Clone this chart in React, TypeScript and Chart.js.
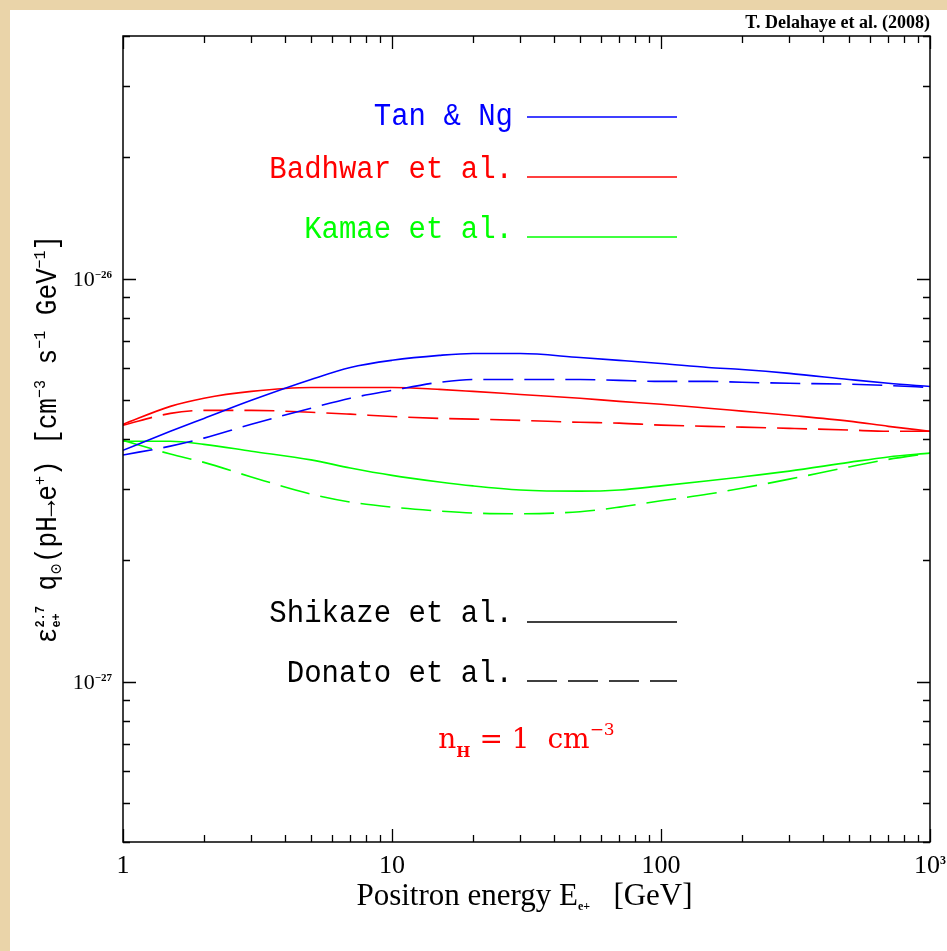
import React, { useEffect, useRef } from 'react';
import { Chart, registerables } from 'chart.js';

Chart.register(...registerables);

// ---------- data (values in units of 1e-27 cm^-3 s^-1 GeV^-1, E^2.7-weighted) ----------
const UNIT = 1e-27;
const energiesGeV = [1, 1.5, 2, 3, 5, 7, 10, 15, 20, 30, 50, 70, 100, 150, 200, 300, 500, 700, 1000];
const tanNgShikaze = [3.75, 4.18, 4.5, 4.99, 5.62, 6.02, 6.27, 6.45, 6.52, 6.52, 6.37, 6.27, 6.16, 6.02, 5.95, 5.82, 5.62, 5.5, 5.4];
const tanNgDonato = [3.65, 3.84, 4.02, 4.35, 4.77, 5.05, 5.28, 5.53, 5.62, 5.62, 5.62, 5.59, 5.56, 5.56, 5.53, 5.5, 5.47, 5.43, 5.37];
const badhwarShikaze = [4.35, 4.82, 5.05, 5.25, 5.37, 5.37, 5.37, 5.31, 5.25, 5.16, 5.05, 4.96, 4.88, 4.77, 4.69, 4.58, 4.43, 4.3, 4.18];
const badhwarDonato = [4.33, 4.63, 4.71, 4.71, 4.66, 4.61, 4.55, 4.5, 4.48, 4.45, 4.4, 4.38, 4.33, 4.3, 4.28, 4.25, 4.21, 4.18, 4.18];
const kamaeShikaze = [3.95, 3.95, 3.88, 3.73, 3.55, 3.39, 3.25, 3.13, 3.06, 2.99, 2.97, 2.99, 3.06, 3.15, 3.22, 3.33, 3.5, 3.61, 3.69];
const kamaeDonato = [3.97, 3.67, 3.5, 3.22, 2.92, 2.79, 2.71, 2.65, 2.62, 2.61, 2.64, 2.71, 2.81, 2.92, 3.02, 3.18, 3.41, 3.56, 3.69];

const xMin = 1;
const xMax = 1000;
const yMin = 4e-28;
const yMax = 4e-26;
const xTickValues = [1, 10, 100, 1000];
const xTickBase = ['1', '10', '100', '10'];
const xTickExp = ['', '', '', '3'];
const yTickValues = [1e-27, 1e-26];
const yTickExp = ['\u221227', '\u221226'];

const BLUE = '#0000ff';
const RED = '#ff0000';
const GREEN = '#00ff00';

const legendTop = [
  { label: 'Tan & Ng', color: BLUE },
  { label: 'Badhwar et al.', color: RED },
  { label: 'Kamae et al.', color: GREEN },
];
const legendBottom = [
  { label: 'Shikaze et al.', dashed: false },
  { label: 'Donato et al.', dashed: true },
];

// ---------- fonts ----------
const SERIF = '"Liberation Serif", "DejaVu Serif", serif';
const MONO = '"Liberation Mono", "DejaVu Sans Mono", monospace';
const DSERIF = '"DejaVu Serif", serif';
const DASH = [30, 11];

type Seg = { t: string; f: string; dy?: number; keep?: boolean };

function measureRich(ctx: CanvasRenderingContext2D, segs: Seg[]) {
  let w = 0;
  let pend = 0;
  for (const s of segs) {
    ctx.font = s.f;
    const sw = ctx.measureText(s.t).width;
    if (s.keep) {
      pend = sw;
      continue;
    }
    w += Math.max(sw, pend);
    pend = 0;
  }
  return w;
}

function drawRich(
  ctx: CanvasRenderingContext2D,
  segs: Seg[],
  x: number,
  y: number,
  align: 'left' | 'center' | 'right',
  color: string,
  sy = 1
) {
  const w = measureRich(ctx, segs);
  let cx = align === 'left' ? x : align === 'center' ? x - w / 2 : x - w;
  ctx.save();
  ctx.translate(0, y);
  ctx.scale(1, sy);
  ctx.textAlign = 'left';
  ctx.textBaseline = 'alphabetic';
  ctx.fillStyle = color;
  let pend = 0;
  for (const s of segs) {
    ctx.font = s.f;
    const sw = ctx.measureText(s.t).width;
    ctx.fillText(s.t, cx, (s.dy || 0) / sy);
    if (s.keep) {
      pend = sw;
      continue;
    }
    cx += Math.max(sw, pend);
    pend = 0;
  }
  ctx.restore();
}

const decorPlugin = {
  id: 'decor',
  beforeDraw(chart: any) {
    const { ctx, width, height } = chart;
    ctx.save();
    ctx.fillStyle = '#ead4a9';
    ctx.fillRect(0, 0, width, height);
    ctx.fillStyle = '#ffffff';
    ctx.fillRect(10, 10, width - 10, height - 10);
    ctx.restore();
  },
  afterDraw(chart: any) {
    const { ctx, chartArea: a, scales } = chart;
    const xs = scales.x;
    const ys = scales.y;
    ctx.save();
    // frame
    ctx.strokeStyle = '#000';
    ctx.lineWidth = 1.5;
    ctx.strokeRect(a.left, a.top, a.right - a.left, a.bottom - a.top);

    // ticks (inward, mirrored)
    ctx.lineWidth = 1.3;
    ctx.beginPath();
    for (let d = 0; d <= 3; d++) {
      for (let k = 1; k <= 9; k++) {
        const v = k * Math.pow(10, d);
        if (v < xMin || v > xMax) continue;
        const px = Math.round(xs.getPixelForValue(v)) + 0.5;
        const len = k === 1 ? 13 : 7;
        ctx.moveTo(px, a.bottom);
        ctx.lineTo(px, a.bottom - len);
        ctx.moveTo(px, a.top);
        ctx.lineTo(px, a.top + len);
      }
    }
    for (let d = -28; d <= -26; d++) {
      for (let k = 1; k <= 9; k++) {
        const v = k * Math.pow(10, d);
        if (v < yMin * 0.999 || v > yMax * 1.001) continue;
        const py = Math.round(ys.getPixelForValue(v)) + 0.5;
        const len = k === 1 ? 13 : 7;
        ctx.moveTo(a.left, py);
        ctx.lineTo(a.left + len, py);
        ctx.moveTo(a.right, py);
        ctx.lineTo(a.right - len, py);
      }
    }
    ctx.stroke();

    // x tick labels
    xTickValues.forEach((v, i) => {
      const px = xs.getPixelForValue(v);
      const segs: Seg[] = [{ t: xTickBase[i], f: `26px ${SERIF}` }];
      if (xTickExp[i]) segs.push({ t: xTickExp[i], f: `bold 12px ${SERIF}`, dy: -9 });
      drawRich(ctx, segs, px, a.bottom + 31, 'center', '#000');
    });
    // y tick labels
    yTickValues.forEach((v, i) => {
      const py = ys.getPixelForValue(v);
      drawRich(
        ctx,
        [
          { t: '10', f: `22px ${SERIF}` },
          { t: yTickExp[i], f: `bold 11px ${SERIF}`, dy: -8 },
        ],
        a.left - 11,
        py + 7,
        'right',
        '#000'
      );
    });

    // x title
    drawRich(
      ctx,
      [
        { t: 'Positron energy E', f: `31px ${SERIF}` },
        { t: 'e+', f: `bold 12px ${SERIF}`, dy: 5 },
        { t: '   [GeV]', f: `31px ${SERIF}` },
      ],
      (a.left + a.right) / 2 - 2,
      a.bottom + 63,
      'center',
      '#000'
    );

    // y title (rotated)
    ctx.save();
    ctx.translate(56, (a.top + a.bottom) / 2);
    ctx.rotate(-Math.PI / 2);
    const base = `26px ${MONO}`;
    const small = `15px ${MONO}`;
    drawRich(
      ctx,
      [
        { t: '\u03b5', f: base },
        { t: '2.7', f: `bold 12px ${MONO}`, dy: -12, keep: true },
        { t: 'e+', f: `bold 12px ${MONO}`, dy: 4 },
        { t: ' q', f: base },
        { t: '\u2299', f: `14px ${DSERIF}`, dy: 5 },
        { t: '(pH\u2192e', f: base },
        { t: '+', f: small, dy: -11 },
        { t: ') [cm', f: base },
        { t: '\u22123', f: small, dy: -11 },
        { t: ' s', f: base },
        { t: '\u22121', f: small, dy: -11 },
        { t: ' GeV', f: base },
        { t: '\u22121', f: small, dy: -11 },
        { t: ']', f: base },
      ],
      0,
      0,
      'center',
      '#000',
      1.12
    );
    ctx.restore();

    // credit
    drawRich(ctx, [{ t: 'T. Delahaye et al. (2008)', f: `bold 18px ${SERIF}` }], a.right, 28, 'right', '#000');

    // legend (in-plot)
    const textRight = a.left + 390;
    const lineL = a.left + 404;
    const lineR = a.left + 554;
    const topRows = [a.top + 89, a.top + 142, a.top + 202];
    const topLines = [a.top + 81, a.top + 141, a.top + 201];
    legendTop.forEach((e, i) => {
      drawRich(ctx, [{ t: e.label, f: `29px ${MONO}` }], textRight, topRows[i], 'right', e.color, 1.1);
      ctx.strokeStyle = e.color;
      ctx.lineWidth = 1.6;
      ctx.setLineDash([]);
      ctx.beginPath();
      ctx.moveTo(lineL, topLines[i]);
      ctx.lineTo(lineR, topLines[i]);
      ctx.stroke();
    });
    const botRows = [a.top + 586, a.top + 646];
    const botLines = [a.top + 586, a.top + 645];
    legendBottom.forEach((e, i) => {
      drawRich(ctx, [{ t: e.label, f: `29px ${MONO}` }], textRight, botRows[i], 'right', '#000', 1.1);
      ctx.strokeStyle = '#000';
      ctx.lineWidth = 1.5;
      ctx.setLineDash(e.dashed ? DASH : []);
      ctx.beginPath();
      ctx.moveTo(lineL, botLines[i]);
      ctx.lineTo(lineR, botLines[i]);
      ctx.stroke();
    });
    ctx.setLineDash([]);

    // density annotation
    drawRich(
      ctx,
      [
        { t: 'n', f: `28px ${DSERIF}` },
        { t: 'H', f: `bold 15px ${DSERIF}`, dy: 9 },
        { t: ' = 1  cm', f: `28px ${DSERIF}` },
        { t: '\u22123', f: `17px ${DSERIF}`, dy: -13 },
      ],
      (a.left + a.right) / 2,
      a.top + 712,
      'center',
      RED
    );
    ctx.restore();
  },
};

export default function App() {
  const ref = useRef<HTMLCanvasElement>(null);
  useEffect(() => {
    const canvas = ref.current;
    if (!canvas) return;
    const mk = (vals: number[], color: string, dashed: boolean) => ({
      data: energiesGeV.map((e, i) => ({ x: e, y: vals[i] * UNIT })),
      borderColor: color,
      borderWidth: 1.6,
      borderDash: dashed ? DASH : [],
      pointRadius: 0,
      fill: false,
      cubicInterpolationMode: 'monotone' as const,
    });
    const chart = new Chart(canvas, {
      type: 'line',
      data: {
        datasets: [
          mk(tanNgShikaze, BLUE, false),
          mk(tanNgDonato, BLUE, true),
          mk(badhwarShikaze, RED, false),
          mk(badhwarDonato, RED, true),
          mk(kamaeShikaze, GREEN, false),
          mk(kamaeDonato, GREEN, true),
        ] as any,
      },
      options: {
        animation: false,
        responsive: false,
        devicePixelRatio: 1,
        layout: { padding: { left: 123, top: 36, right: 17, bottom: 109 } },
        plugins: { legend: { display: false }, tooltip: { enabled: false } },
        scales: {
          x: { type: 'logarithmic', min: xMin, max: xMax, display: false },
          y: { type: 'logarithmic', min: yMin, max: yMax, display: false },
        },
      } as any,
      plugins: [decorPlugin as any],
    });
    return () => chart.destroy();
  }, []);
  return (
    <div style={{ position: 'fixed', left: 0, top: 0, width: 947, height: 951 }}>
      <canvas ref={ref} width={947} height={951} style={{ display: 'block', width: 947, height: 951 }} />
    </div>
  );
}
